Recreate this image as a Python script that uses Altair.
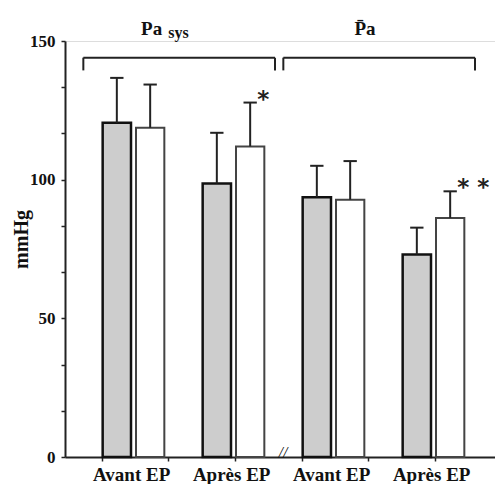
import altair as alt
import pandas as pd

# ---- data ----
measures = ["Pa sys", "P̄a"]
phases = ["Avant EP", "Après EP", "Avant EP", "Après EP"]
grey_mean = [120.5, 98.6, 93.7, 73.0]
grey_upper = [136.7, 116.9, 105.0, 82.7]
white_mean = [118.7, 112.0, 92.8, 86.2]
white_upper = [134.3, 127.8, 106.7, 95.8]
white_signif = ["", "*", "", "**"]
y_major = [0, 50, 100, 150]

FONT = "Liberation Serif"
INK = "#222222"

rows = []
for g, phase in enumerate(phases):
    for s, (means, uppers) in enumerate([(grey_mean, grey_upper), (white_mean, white_upper)]):
        slot = 3 * g + s
        rows.append(dict(
            phase=phase, series=["gris", "blanc"][s],
            x0=slot + 0.03, x1=slot + 0.88, xc=slot + 0.455,
            cap0=slot + 0.255, cap1=slot + 0.655,
            mean=means[g], upper=uppers[g],
            signif=white_signif[g] if s == 1 else "",
        ))
df = pd.DataFrame(rows)

lab_df = pd.DataFrame({"phase": phases, "xc": [3 * g + 0.9 for g in range(len(phases))]})

br_rows = []
for m, name in enumerate(measures):
    br_rows.append(dict(measure=name, b0=6 * m - 0.55, b1=6 * m + 5.2))
br_df = pd.DataFrame(br_rows)

title_df = pd.DataFrame([
    dict(t="Pa", x=6 * 0 + 1.9 - 0.4),
    dict(t="P̄a", x=6 * 1 + 1.9),
])
sub_df = pd.DataFrame([dict(t="sys", x=6 * 0 + 1.9 + 0.1)])

xscale = alt.Scale(domain=[-1.1, 11.8], nice=False, zero=False)
yscale = alt.Scale(domain=[0, 150], nice=False)

minor = [i * 50 / 6 for i in range(19)]

xaxis = alt.Axis(values=list(range(12)), labels=False, title=None, grid=False,
                 tickSize=4, tickColor=INK, tickWidth=1.5,
                 domainColor=INK, domainWidth=2)
yaxis = alt.Axis(values=minor, title="mmHg", grid=False,
                 labelExpr="abs(datum.value - round(datum.value)) < 0.01 && round(datum.value) % 50 == 0 ? toString(round(datum.value)) : ''",
                 tickSize=4, tickColor=INK, tickWidth=1.5,
                 domainColor=INK, domainWidth=2,
                 labelFont=FONT, labelFontSize=17, labelFontWeight="bold", labelColor="#111",
                 labelPadding=6,
                 titleFont=FONT, titleFontSize=20, titleFontWeight="bold", titleColor="#111",
                 titleX=-44, titleY=198, titleAngle=-90, titleAlign="center", titleBaseline="middle")

base = alt.Chart(df)

grey_bars = base.transform_filter(alt.datum.series == "gris").mark_bar(
    fill="#cdcdcd", stroke="#111111", strokeWidth=2.5
).encode(
    x=alt.X("x0:Q", scale=xscale, axis=xaxis),
    x2="x1:Q",
    y=alt.Y("mean:Q", scale=yscale, axis=yaxis),
    y2=alt.Y2(datum=0),
)

white_bars = base.transform_filter(alt.datum.series == "blanc").mark_bar(
    fill="#ffffff", stroke="#444444", strokeWidth=2
).encode(
    x=alt.X("x0:Q", scale=xscale),
    x2="x1:Q",
    y=alt.Y("mean:Q", scale=yscale),
    y2=alt.Y2(datum=0),
)

err = base.mark_rule(color=INK, strokeWidth=2).encode(
    x=alt.X("xc:Q", scale=xscale), y=alt.Y("mean:Q", scale=yscale), y2="upper:Q"
)
caps = base.mark_rule(color=INK, strokeWidth=2).encode(
    x=alt.X("cap0:Q", scale=xscale), x2="cap1:Q", y=alt.Y("upper:Q", scale=yscale)
)
stars = base.transform_filter(alt.datum.signif != "").transform_calculate(
    shown="replace(datum.signif, '**', '* *')"
).mark_text(
    align="left", baseline="alphabetic", dx=7, dy=4, font="DejaVu Sans",
    fontSize=23, fontWeight="bold", color=INK
).encode(
    x=alt.X("xc:Q", scale=xscale), y=alt.Y("upper:Q", scale=yscale), text="shown:N"
)

xlabels = alt.Chart(lab_df).mark_text(
    baseline="alphabetic", dy=24, font=FONT, fontSize=19, fontWeight="bold", color="#111"
).encode(
    x=alt.X("xc:Q", scale=xscale), y=alt.Y(datum=0, scale=yscale), text="phase:N"
)

brk = alt.Chart(lab_df.head(1)).mark_text(
    text="//", font=FONT, fontSize=16, fontStyle="italic", color="#111", baseline="middle", dy=-4
).encode(x=alt.X(datum=5.44, scale=xscale), y=alt.Y(datum=0, scale=yscale))

br_top = alt.Chart(br_df).mark_rule(color=INK, strokeWidth=2).encode(
    x=alt.X("b0:Q", scale=xscale), x2="b1:Q", y=alt.Y(datum=144, scale=yscale)
)
br_left = alt.Chart(br_df).mark_rule(color=INK, strokeWidth=2).encode(
    x=alt.X("b0:Q", scale=xscale), y=alt.Y(datum=144, scale=yscale), y2=alt.Y2(datum=139.4)
)
br_right = alt.Chart(br_df).mark_rule(color=INK, strokeWidth=2).encode(
    x=alt.X("b1:Q", scale=xscale), y=alt.Y(datum=144, scale=yscale), y2=alt.Y2(datum=139.4)
)

titles = alt.Chart(title_df).mark_text(
    baseline="middle", font=FONT, fontSize=19, fontWeight="bold", color="#111"
).encode(x=alt.X("x:Q", scale=xscale), y=alt.Y(datum=154.5, scale=yscale), text="t:N")
subs = alt.Chart(sub_df).mark_text(
    baseline="middle", align="left", font=FONT, fontSize=16, fontWeight="bold", color="#111", dy=4
).encode(x=alt.X("x:Q", scale=xscale), y=alt.Y(datum=154.5, scale=yscale), text="t:N")

chart = alt.layer(
    grey_bars, white_bars, err, caps, stars, xlabels, brk,
    br_top, br_left, br_right, titles, subs
).properties(
    width=430, height=416,
    autosize=alt.AutoSizeParams(type="none"),
    padding={"left": 57, "top": 33, "right": 0, "bottom": 27},
).configure_view(stroke=None).configure(background="white")

chart.save("out.html", embed_options={"renderer": "svg", "actions": False})
